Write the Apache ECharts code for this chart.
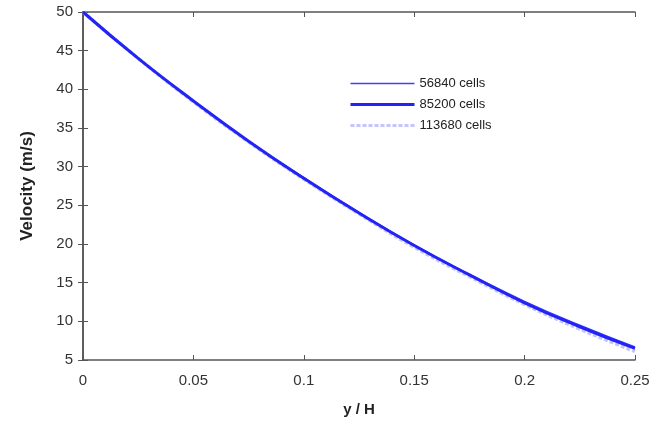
<!DOCTYPE html>
<html>
<head>
<meta charset="utf-8">
<script src="https://cdn.jsdelivr.net/npm/echarts@6/dist/echarts.min.js"></script>
<style>html,body{margin:0;padding:0;background:#fff}#c{width:655px;height:428px}</style>
</head>
<body>
<div id="c"></div>
<script>
var xValues = [0, 0.025, 0.05, 0.075, 0.1, 0.125, 0.15, 0.175, 0.2, 0.225, 0.25];
var cells56840 = [50, 44.0, 38.5, 33.3, 28.6, 24.1, 19.9, 16.1, 12.6, 9.5, 6.7];
var cells85200 = [50, 44.0, 38.5, 33.3, 28.5, 24.0, 19.8, 16.0, 12.4, 9.3, 6.5];
var cells113680 = [50, 44.0, 38.4, 33.2, 28.4, 23.9, 19.6, 15.8, 12.2, 9.0, 6.1];
var seriesNames = ['56840 cells', '85200 cells', '113680 cells'];
var xTicks = [0, 0.05, 0.1, 0.15, 0.2, 0.25];
var yTicks = [5, 10, 15, 20, 25, 30, 35, 40, 45, 50];

function pairs(ys){ return xValues.map(function(x,i){ return [x, ys[i]]; }); }

var chart = echarts.init(document.getElementById('c'));
var axisLine = {show:true, lineStyle:{color:'#555', width:1.5}};
var tick = {show:true, inside:true, length:5, lineStyle:{color:'#555'}};
var font = 'Liberation Sans, Arial, sans-serif';
chart.setOption({
  animation:false,
  textStyle:{fontFamily:font},
  grid:{left:83, right:20, top:12, bottom:68},
  legend:{
    orient:'vertical', left:344, top:72, itemWidth:64, itemHeight:8, itemGap:8,
    itemStyle:{opacity:0},
    textStyle:{fontSize:13, color:'#222', fontFamily:font},
    data:[
      {name:seriesNames[0], lineStyle:{width:1.3, color:'#4040ff'}},
      {name:seriesNames[1], lineStyle:{width:3, color:'#2323f5'}},
      {name:seriesNames[2], lineStyle:{width:3, color:'#c4c4ff', type:[4,2]}}
    ]
  },
  xAxis:[{
    type:'value', min:0, max:0.25, interval:0.05,
    name:'y / H', nameLocation:'middle', nameGap:42,
    nameTextStyle:{fontSize:15, fontWeight:'bold', color:'#222', fontFamily:font},
    axisLine:axisLine, axisTick:tick, splitLine:{show:false},
    axisLabel:{fontSize:15, color:'#333', margin:13, fontFamily:font}
  },{
    type:'value', min:0, max:0.25, interval:0.05, position:'top',
    axisLine:axisLine, axisTick:tick, splitLine:{show:false}, axisLabel:{show:false}
  }],
  yAxis:[{
    type:'value', min:5, max:50, interval:5,
    name:'Velocity (m/s)', nameLocation:'middle', nameGap:47,
    nameTextStyle:{fontSize:17, fontWeight:'bold', color:'#222', fontFamily:font},
    axisLine:axisLine, axisTick:tick, splitLine:{show:false},
    axisLabel:{fontSize:15, color:'#333', margin:10, fontFamily:font}
  },{
    type:'value', min:5, max:50, interval:5, position:'right',
    axisLine:axisLine, axisTick:tick, splitLine:{show:false}, axisLabel:{show:false}
  }],
  series:[
    {name:seriesNames[2], type:'line', smooth:true, symbol:'none', data:pairs(cells113680),
     lineStyle:{color:'#c4c4ff', width:3.5, type:[4,2]}, itemStyle:{color:'#c4c4ff'}},
    {name:seriesNames[0], type:'line', smooth:true, symbol:'none', data:pairs(cells56840),
     lineStyle:{color:'#4040ff', width:1.3}, itemStyle:{color:'#4040ff'}},
    {name:seriesNames[1], type:'line', smooth:true, symbol:'none', data:pairs(cells85200),
     lineStyle:{color:'#2323f5', width:3}, itemStyle:{color:'#2323f5'}}
  ]
});
</script>
</body>
</html>
